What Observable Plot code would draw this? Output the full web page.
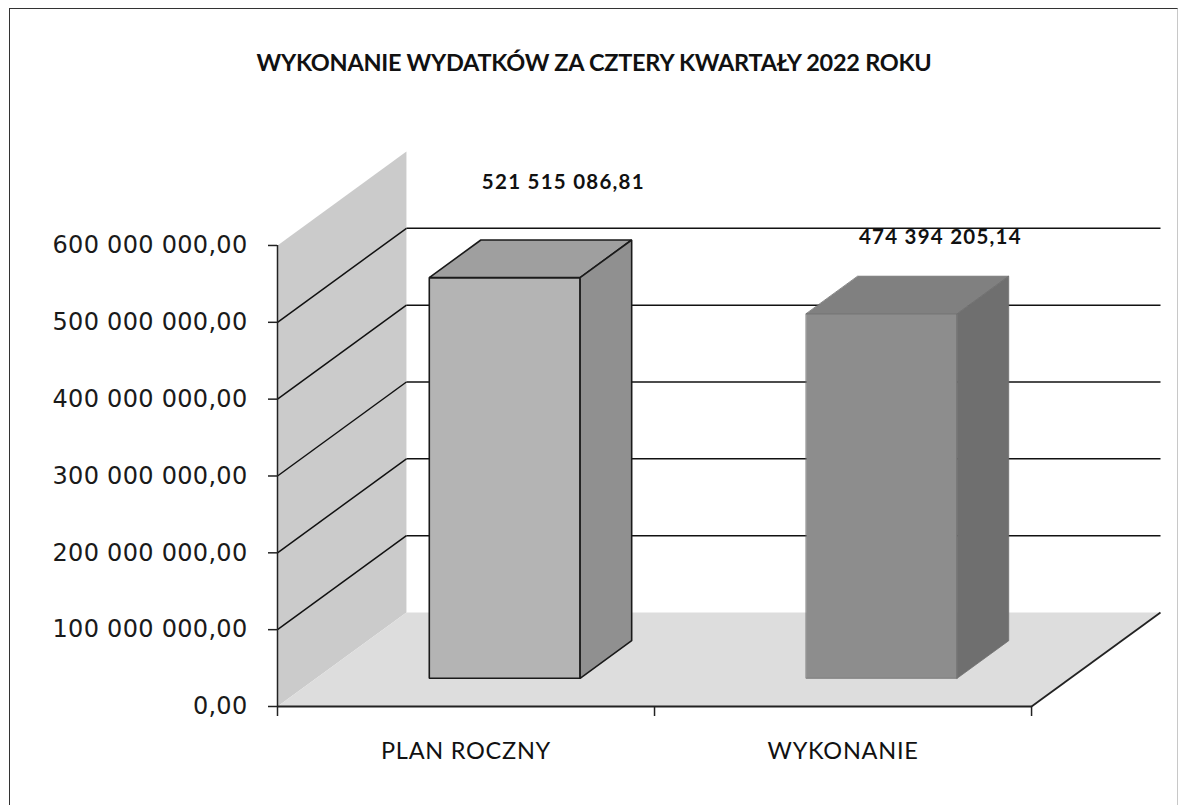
<!DOCTYPE html>
<html><head><meta charset="utf-8">
<script src="https://cdn.jsdelivr.net/npm/d3@7"></script>
<script src="https://cdn.jsdelivr.net/npm/@observablehq/plot@0.6"></script>
<style>
body{margin:0;background:#fff;}
#wrap{position:relative;width:1183px;height:805px;overflow:hidden;background:#fff;}
#chart svg{display:block;}
#frame{position:absolute;left:9px;top:8px;width:1167px;height:830px;border:1.5px solid #333;border-right:1px solid #c8c8c8;pointer-events:none;}
</style></head><body><div id="wrap"><div id="chart"></div><div id="frame"></div></div>
<script>
// ---- data ----
const categories = ["PLAN ROCZNY", "WYKONANIE"];
const values = [521515086.81, 474394205.14];
const yTicks = [0, 100e6, 200e6, 300e6, 400e6, 500e6, 600e6];
const gridTicks = [100e6, 200e6, 300e6, 400e6, 500e6];
const title = "WYKONANIE WYDATKÓW ZA CZTERY KWARTAŁY 2022 ROKU";

// ---- styles / geometry ----
const barStyles = [
  {front: "#b4b4b4", top: "#9f9f9f", side: "#909090", stroke: "#1a1a1a", sw: 1.6},
  {front: "#8d8d8d", top: "#808080", side: "#6f6f6f", stroke: "#707070", sw: 0.8}
];
const DX = 0.342;          // depth of the chart in x units
const DY = 122.3e6;        // depth of the chart in y units
const F = 0.30, B = 0.70, HW = 0.2;
const yMax = 600e6 + DY;

const fmt = d3.formatLocale({decimal: ",", thousands: " ", grouping: [3], currency: ["", ""]}).format(",.2f");

function poly(points, fill, stroke, sw) {
  return Plot.line(points, {x: d => d[0], y: d => d[1], fill, stroke: stroke || "none",
    strokeWidth: sw || 1, curve: "linear-closed", strokeLinejoin: "miter"});
}

const marks = [];
// side wall
marks.push(poly([[0, 600e6], [DX, 600e6 + DY], [DX, DY], [0, 0]], "#cbcbcb"));
// floor
marks.push(poly([[0, 0], [DX, DY], [2 + DX, DY], [2, 0]], "#dddddd"));
// back wall gridlines
marks.push(Plot.link(gridTicks, {x1: () => DX, x2: () => 2 + DX, y1: d => d + DY, y2: d => d + DY, stroke: "#111", strokeWidth: 1.5}));
// side wall gridlines
marks.push(Plot.link(gridTicks, {x1: () => 0, x2: () => DX, y1: d => d, y2: d => d + DY, stroke: "#111", strokeWidth: 1.5}));
// floor edges
marks.push(Plot.link([0], {x1: () => 0, x2: () => 2, y1: () => 0, y2: () => 0, stroke: "#222", strokeWidth: 1.8}));
marks.push(Plot.link([0], {x1: () => 2, x2: () => 2 + DX, y1: () => 0, y2: () => DY, stroke: "#222", strokeWidth: 1.8}));
// y axis line
marks.push(Plot.ruleX([0], {y1: 0, y2: 600e6, stroke: "#222", strokeWidth: 1.5}));
marks.push(Plot.axisY(yTicks, {tickSize: 9, tickPadding: 21, tickFormat: fmt, fontSize: 24,
  fontFamily: "DejaVu Sans", stroke: "#222", strokeWidth: 1.5, fill: "#1a1a1a"}));
marks.push(Plot.axisX([0, 1, 2], {tickSize: 10, tickFormat: () => "", stroke: "#222", strokeWidth: 1.5}));

// bars
values.forEach((v, i) => {
  const c = i + 0.5, s = barStyles[i];
  const x0 = c - HW + F * DX, x1 = c + HW + F * DX, ya = F * DY, yb = v + F * DY;
  const ex = (B - F) * DX, ey = (B - F) * DY;
  marks.push(poly([[x0, ya], [x1, ya], [x1, yb], [x0, yb]], s.front, s.stroke, s.sw));
  marks.push(poly([[x0, yb], [x1, yb], [x1 + ex, yb + ey], [x0 + ex, yb + ey]], s.top, s.stroke, s.sw));
  marks.push(poly([[x1, ya], [x1 + ex, ya + ey], [x1 + ex, yb + ey], [x1, yb]], s.side, s.stroke, s.sw));
});

// value labels
const labelDy = [-29, -11];
values.forEach((v, i) => {
  marks.push(Plot.text([v], {x: () => i + 0.5 + 0.755 * DX, y: d => d + DY, text: d => fmt(d),
    dy: labelDy[i], fontSize: 20.5, fontWeight: "bold", fontFamily: "Lato", fill: "#111"}));
});
// category labels
marks.push(Plot.text(categories, {x: (d, i) => i + 0.5, y: () => 0, dy: 45, fontSize: 23.5,
  fontFamily: "Lato", fill: "#111"}));
// title
marks.push(Plot.text([title], {frameAnchor: "top", lineAnchor: "middle", dx: -125, dy: -88, fontSize: 23.5, fontWeight: "bold",
  fontFamily: "Lato", fill: "#111"}));

const svg = Plot.plot({
  width: 1183, height: 805,
  marginLeft: 277, marginRight: 23, marginTop: 151, marginBottom: 99,
  x: {domain: [0, 2 + DX], axis: null},
  y: {domain: [0, yMax], axis: null},
  style: {background: "transparent", overflow: "visible"},
  marks
});
document.getElementById("chart").appendChild(svg);

// fit text widths to the reference by adjusting letter spacing
const allTexts = [...svg.querySelectorAll("text")];
function fit(contents, sample, target) {
  const texts = allTexts.filter(t => contents.includes(t.textContent));
  const ref = texts.find(t => t.textContent === sample);
  if (!ref) return;
  const w = ref.getComputedTextLength();
  const ls = (target - w) / ref.textContent.length;
  texts.forEach(t => { t.style.letterSpacing = ls + "px"; });
}
fit(yTicks.map(fmt), "600 000 000,00", 195);
fit(values.map(fmt), fmt(values[0]), 163);
fit(categories, "PLAN ROCZNY", 170);
fit([title], title, 675);
</script></body></html>
